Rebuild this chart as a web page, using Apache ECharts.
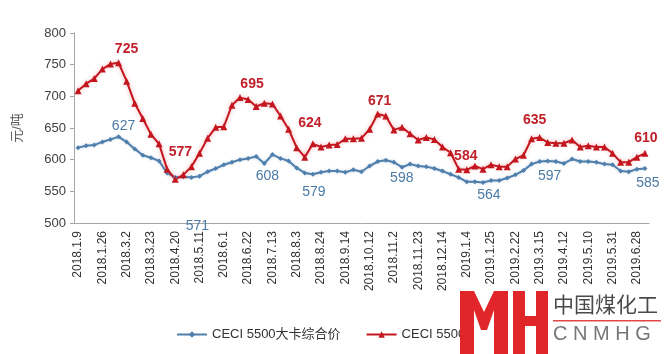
<!DOCTYPE html>
<html>
<head>
<meta charset="utf-8">
<script src="https://cdn.jsdelivr.net/npm/echarts@6/dist/echarts.min.js"></script>
<style>
  html, body { margin: 0; padding: 0; background: #fff; }
  #chart { width: 665px; height: 354px; }
</style>
</head>
<body>
<div id="chart"></div>
<script>
// weekly dates (labels shown every 3rd)
const dates = [
  "2018.1.9", "2018.1.12", "2018.1.19", "2018.1.26", "2018.2.2", "2018.2.9",
  "2018.3.2", "2018.3.9", "2018.3.16", "2018.3.23", "2018.3.30", "2018.4.13",
  "2018.4.20", "2018.4.27", "2018.5.4", "2018.5.11", "2018.5.18", "2018.5.25",
  "2018.6.1", "2018.6.8", "2018.6.15", "2018.6.22", "2018.6.29", "2018.7.6",
  "2018.7.13", "2018.7.20", "2018.7.27", "2018.8.3", "2018.8.10", "2018.8.17",
  "2018.8.24", "2018.8.31", "2018.9.7", "2018.9.14", "2018.9.21", "2018.9.28",
  "2018.10.12", "2018.10.19", "2018.10.26", "2018.11.2", "2018.11.9", "2018.11.16",
  "2018.11.23", "2018.11.30", "2018.12.7", "2018.12.14", "2018.12.21", "2018.12.28",
  "2019.1.4", "2019.1.11", "2019.1.18", "2019.1.25", "2019.2.1", "2019.2.15",
  "2019.2.22", "2019.3.1", "2019.3.8", "2019.3.15", "2019.3.22", "2019.3.29",
  "2019.4.12", "2019.4.19", "2019.4.26", "2019.5.10", "2019.5.17", "2019.5.24",
  "2019.5.31", "2019.6.14", "2019.6.21", "2019.6.28", "2019.7.5"
];

// CECI 5500大卡综合价
const blueValues = [
  619, 622, 623, 628, 632, 636, 628, 617, 607, 603, 598, 579,
  572, 573, 572, 574, 581, 586, 592, 596, 600, 602, 605, 594,
  608, 602, 598, 587, 579, 577, 580, 582, 582, 580, 584, 581,
  590, 597, 599, 596, 588, 593, 590, 589, 586, 582, 577, 572,
  565, 565, 564, 567, 567, 571, 576, 583, 593, 597, 598, 597,
  594, 601, 597, 597, 596, 593, 592, 582, 581, 585, 586
];

// CECI 5500
const redValues = [
  709, 720, 728, 743, 751, 753, 724, 689, 665, 640, 625, 585,
  569, 576, 589, 610, 634, 651, 652, 686, 698, 695, 684, 689,
  688, 669, 648, 619, 604, 625, 620, 623, 624, 633, 633, 634,
  648, 672, 669, 647, 651, 641, 631, 635, 632, 620, 611, 585,
  584, 590, 585, 592, 589, 589, 601, 607, 633, 635, 627, 626,
  626, 631, 620, 622, 620, 620, 610, 596, 596, 604, 610
];

// annotated points (index -> text)
const blueLabelIdx = [5, 13, 24, 28, 38, 50, 57, 70];
const blueLabelText = ["627", "571", "608", "579", "598", "564", "597", "585"];
const redLabelIdx = [5, 13, 20, 28, 37, 48, 57, 70];
const redLabelText = ["725", "577", "695", "624", "671", "584", "635", "610"];

const yTicks = { min: 500, max: 800, step: 50 };

// where each annotation sits relative to its point (layout only)
const blueLabelOffset = [[5, -11], [14, 49], [-5, 22], [9, 19], [16, 18], [6, 13], [10, 15], [3, 15]];
const redLabelOffset = [[8, -14], [-3, -23], [12, -13], [5, -34], [2, -13], [-1, -14], [-5, -17], [1, -15]];

const FONT = "'Liberation Sans', 'Noto Sans CJK SC', sans-serif";
const BLUE = "#4f7fac";
const RED = "#c3161f";
const LOGO = "#e1262a";

function withLabels(values, idx, texts, offsets, color, weight) {
  return values.map((v, i) => {
    const k = idx.indexOf(i);
    if (k < 0) return v;
    return {
      value: v,
      label: {
        show: true,
        position: "inside",
        offset: offsets[k],
        formatter: texts[k],
        color: color,
        fontSize: 14,
        fontWeight: weight,
        fontFamily: FONT
      }
    };
  });
}

const chart = echarts.init(document.getElementById("chart"));

const option = {
  animation: false,
  backgroundColor: "#fff",
  grid: { left: 74, right: 16, top: 33, bottom: 131 },
  legend: {
    left: 171,
    top: 323,
    itemWidth: 30,
    itemHeight: 8,
    itemGap: 25,
    textStyle: { fontSize: 13, color: "#333", fontFamily: FONT },
    data: ["CECI 5500大卡综合价", "CECI 5500"]
  },
  xAxis: {
    type: "category",
    data: dates,
    boundaryGap: true,
    axisLine: { lineStyle: { color: "#a6a6a6" } },
    axisTick: { interval: 0, length: 4, lineStyle: { color: "#a6a6a6" } },
    axisLabel: {
      interval: 2,
      rotate: 90,
      fontSize: 12,
      color: "#333",
      margin: 8,
      fontFamily: FONT
    }
  },
  yAxis: {
    type: "value",
    min: yTicks.min,
    max: yTicks.max,
    interval: yTicks.step,
    name: "元/吨",
    nameLocation: "middle",
    nameRotate: 90,
    nameGap: 50,
    nameTextStyle: { fontSize: 13, color: "#595959", fontFamily: FONT },
    axisLine: { show: true, lineStyle: { color: "#a6a6a6" } },
    axisTick: { show: true, length: 4, lineStyle: { color: "#a6a6a6" } },
    splitLine: { show: false },
    axisLabel: { fontSize: 13, color: "#404040", margin: 8, fontFamily: FONT }
  },
  series: [
    {
      name: "CECI 5500大卡综合价",
      type: "line",
      symbol: "diamond",
      symbolSize: 5,
      showAllSymbol: true,
      color: BLUE,
      lineStyle: { width: 2, color: BLUE, shadowColor: "rgba(79,127,172,0.35)", shadowBlur: 3 },
      itemStyle: { color: BLUE },
      data: withLabels(blueValues, blueLabelIdx, blueLabelText, blueLabelOffset, "#4a7aa6", "normal")
    },
    {
      name: "CECI 5500",
      type: "line",
      symbol: "triangle",
      symbolSize: 7,
      showAllSymbol: true,
      color: RED,
      lineStyle: { width: 2, color: RED, shadowColor: "rgba(230,60,60,0.45)", shadowBlur: 4 },
      itemStyle: { color: RED },
      data: withLabels(redValues, redLabelIdx, redLabelText, redLabelOffset, "#c0202a", "bold")
    }
  ],
  graphic: [
    // watermark logo
    { type: "rect", z: 100, shape: { x: 460, y: 291, width: 14, height: 63 }, style: { fill: LOGO } },
    { type: "rect", z: 100, shape: { x: 494, y: 291, width: 14, height: 63 }, style: { fill: LOGO } },
    {
      type: "polygon", z: 100,
      shape: { points: [[474, 291], [484, 312], [494, 291], [494, 310], [487, 330], [481, 330], [474, 310]] },
      style: { fill: LOGO }
    },
    { type: "rect", z: 100, shape: { x: 513, y: 291, width: 12, height: 63 }, style: { fill: LOGO } },
    { type: "rect", z: 100, shape: { x: 536, y: 291, width: 12, height: 63 }, style: { fill: LOGO } },
    { type: "rect", z: 100, shape: { x: 525, y: 316, width: 11, height: 10 }, style: { fill: LOGO } },
    {
      type: "text", z: 100, left: 553, top: 294,
      style: { text: "中国煤化工", fill: "#4a4a4a", font: "21px 'Noto Sans CJK SC'" }
    },
    { type: "rect", z: 100, shape: { x: 553, y: 320, width: 108, height: 1.5 }, style: { fill: "#e04848" } },
    {
      type: "text", z: 100, left: 553, top: 324,
      style: { text: "C N M H G", fill: "#777", font: "20px 'Liberation Sans'" }
    }
  ]
};

chart.setOption(option);
</script>
</body>
</html>
